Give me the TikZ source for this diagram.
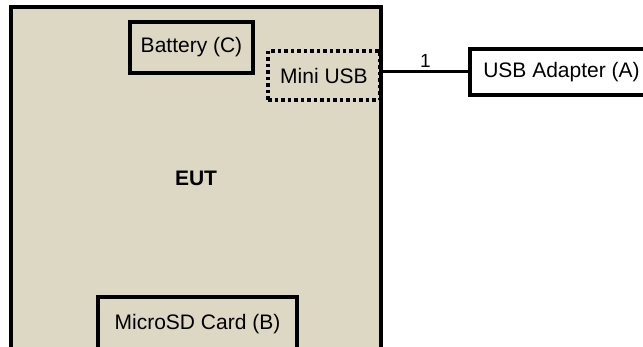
\documentclass[tikz,border=0pt]{standalone}
\usepackage{fontspec}
\setmainfont{Liberation Sans}
\usetikzlibrary{positioning}
\definecolor{eutfill}{RGB}{221,216,196}

\begin{document}
\begin{tikzpicture}[
  x=1pt,y=-1pt,
  font=\fontsize{21}{25}\selectfont,
  unit/.style={rectangle,draw=black,line width=4pt,fill=eutfill,inner sep=0pt},
  port/.style={rectangle,draw=black,line width=3.5pt,dash pattern=on 3.5pt off 3pt,inner sep=0pt},
  ext/.style={rectangle,draw=black,line width=4pt,fill=white,inner sep=0pt},
  line/.style={draw=black,line width=3pt}
]
  \useasboundingbox (0,0) rectangle (643,347);
  \node[unit,minimum width=370pt,minimum height=343pt,font=\fontsize{21}{25}\selectfont\bfseries] (eut) at (196,178.5) {EUT};
  \node[unit,minimum width=123pt,minimum height=51pt] (batt) at (191.5,47.5) {Battery (C)};
  \node[port,minimum width=112pt,minimum height=49pt] (usb) at (324,75.5) {Mini USB};
  \node[unit,minimum width=199pt,minimum height=54pt] (sd) at (197.5,324) {MicroSD Card (B)};
  \node[ext,minimum width=183pt,minimum height=46pt] (adapter) at (561.5,72) {USB Adapter (A)};

  \draw[line] (adapter.west -| eut.east) -- node[above,font=\fontsize{19}{22}\selectfont] {1} (adapter.west);
\end{tikzpicture}
\end{document}
